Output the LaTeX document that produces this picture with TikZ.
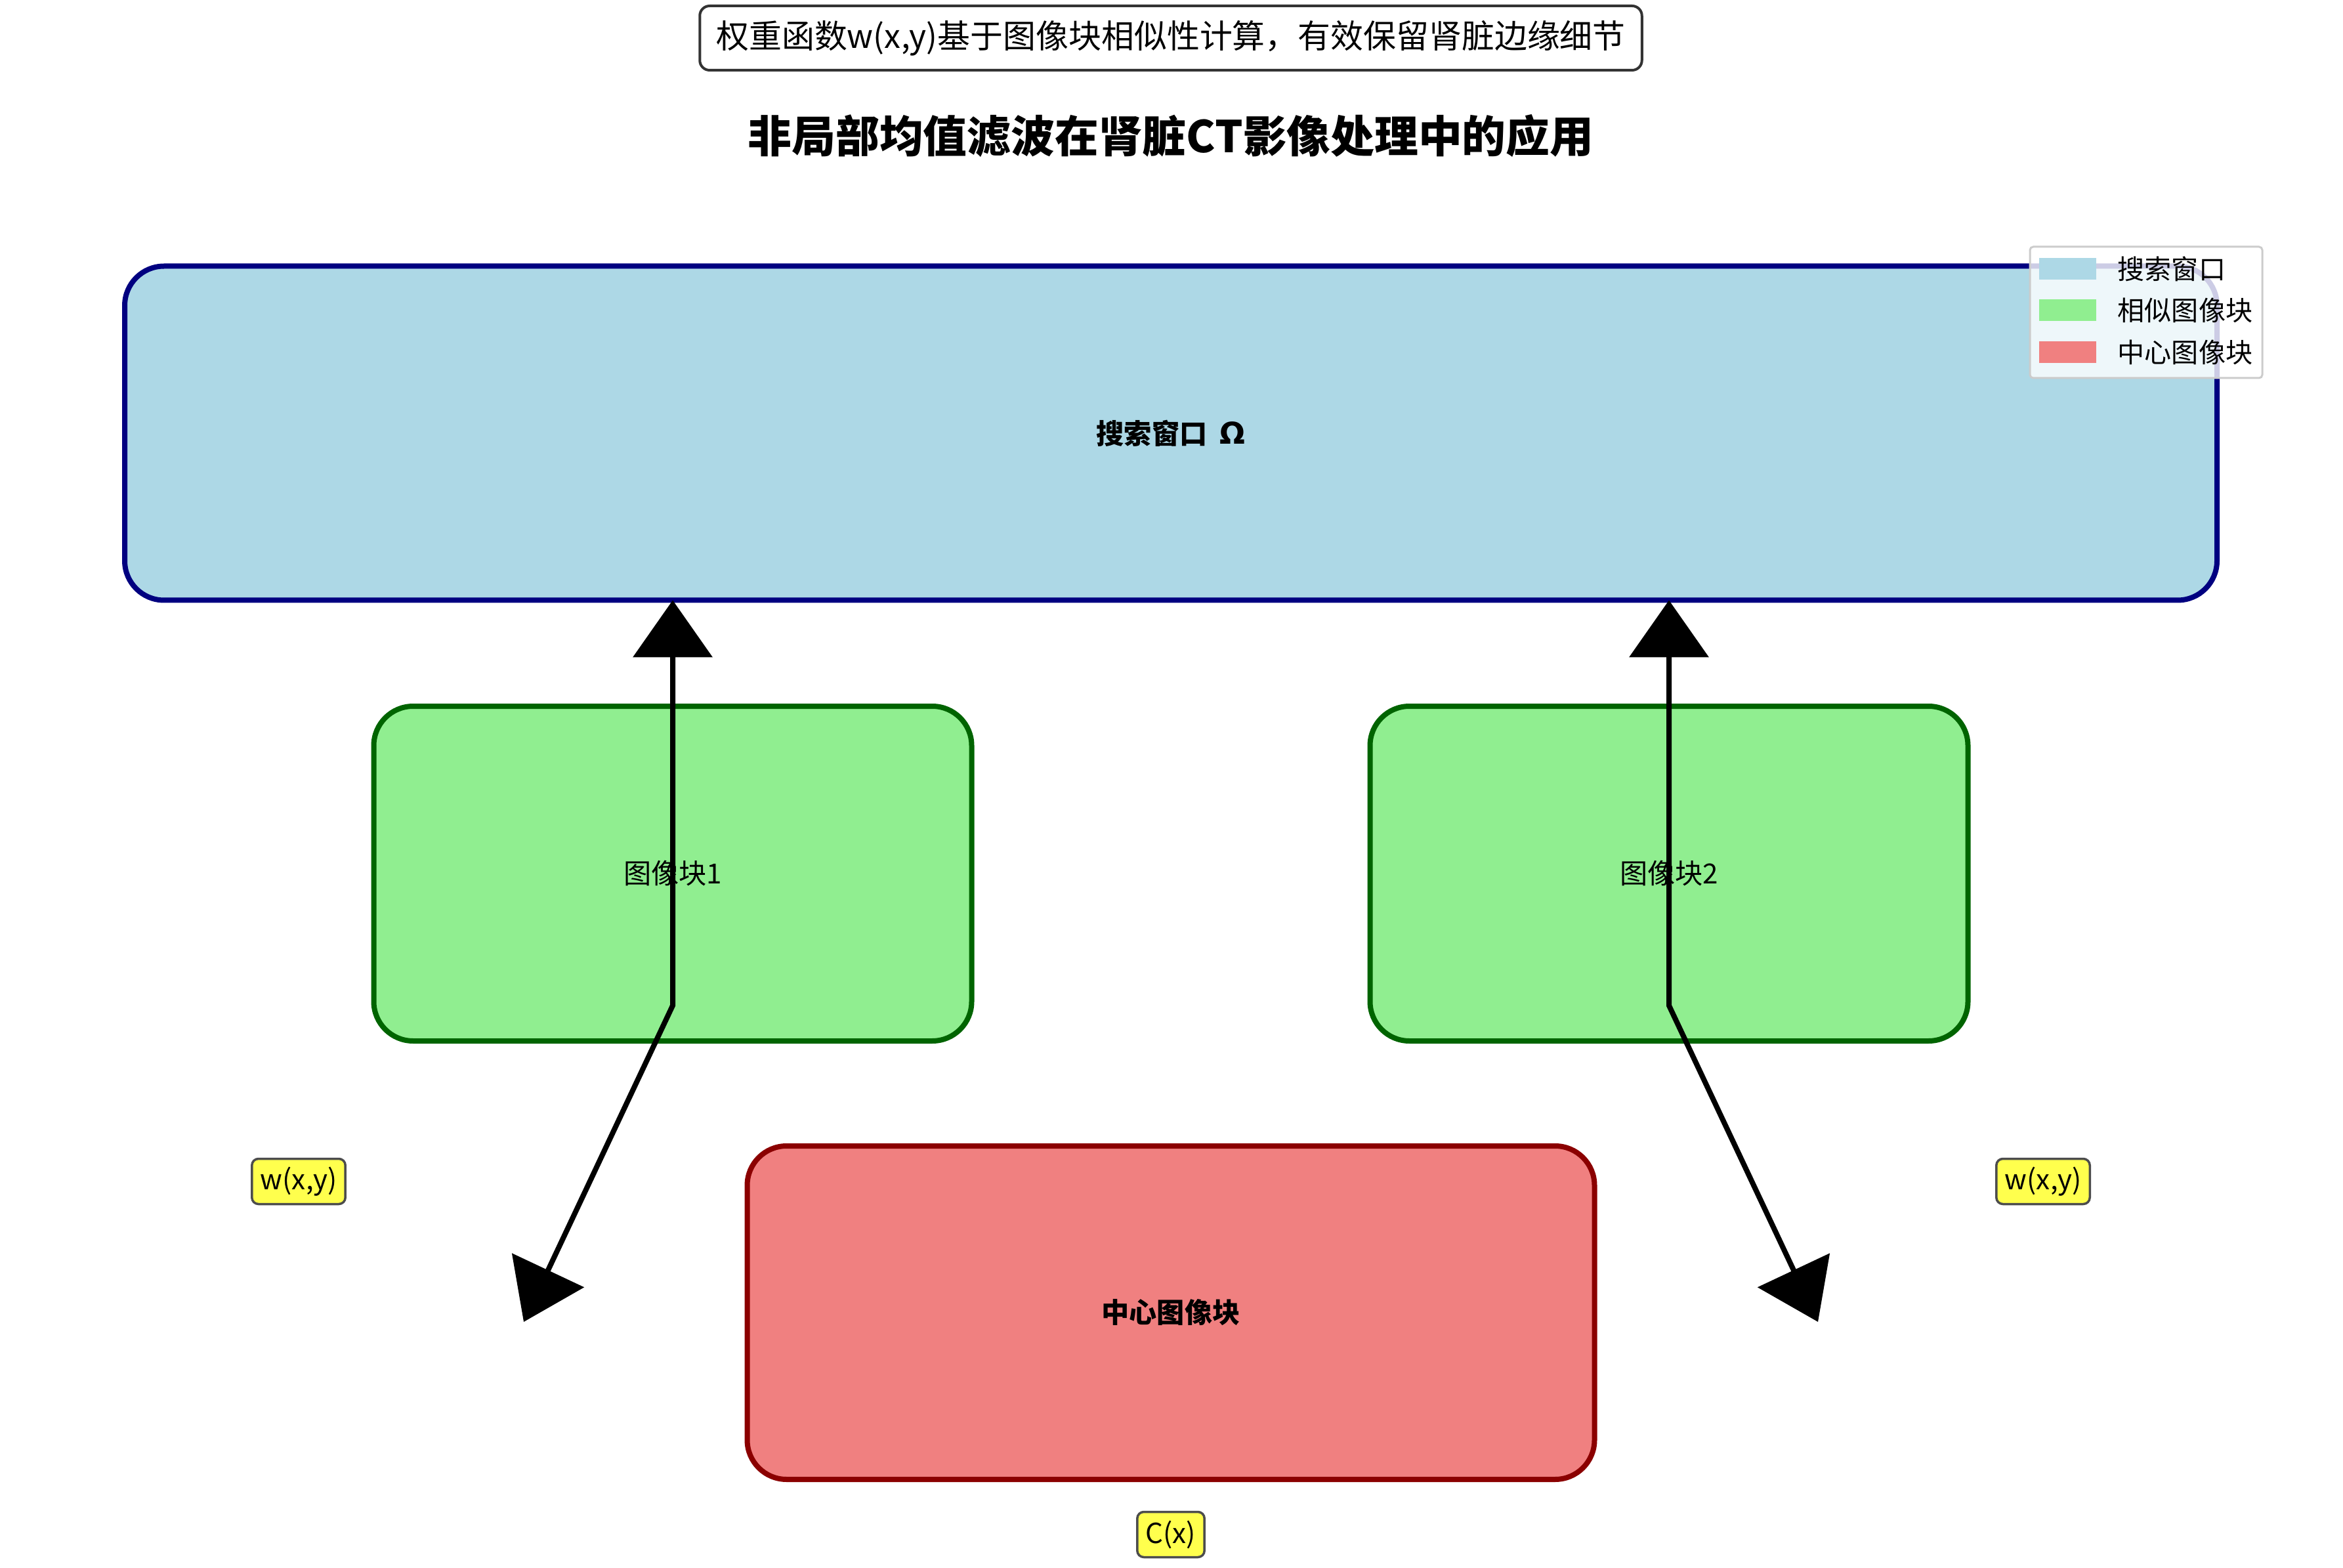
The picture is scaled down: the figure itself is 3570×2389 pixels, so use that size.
\documentclass[tikz,border=0pt]{standalone}
\usepackage{fontspec}
\setmainfont{Noto Sans CJK SC}
\newfontfamily\dejavu{DejaVu Sans}
\usetikzlibrary{arrows.meta,positioning}

\definecolor{winfill}{HTML}{ADD8E6}
\definecolor{winedge}{HTML}{000080}
\definecolor{simfill}{HTML}{90EE90}
\definecolor{simedge}{HTML}{006400}
\definecolor{ctrfill}{HTML}{F08080}
\definecolor{ctredge}{HTML}{8B0000}
\definecolor{tagfill}{HTML}{FFFF4D}
\definecolor{tagedge}{HTML}{4D4D4D}

\begin{document}
\begin{tikzpicture}[
x=0.1mm,y=-0.1mm,
patch/.style={draw,rounded corners=6mm,line width=0.8mm,outer sep=0pt,inner sep=0pt,font=\fontsize{12}{14}\selectfont},
win/.style={patch,fill=winfill,draw=winedge,minimum width=318.8mm,minimum height=50.9mm,font=\fontsize{12}{14}\selectfont\bfseries},
sim/.style={patch,fill=simfill,draw=simedge,minimum width=91.1mm,minimum height=51mm},
ctr/.style={patch,fill=ctrfill,draw=ctredge,minimum width=129.1mm,minimum height=50.8mm,font=\fontsize{12}{14}\selectfont\bfseries},
tag/.style={draw=tagedge,fill=tagfill,rounded corners=1mm,line width=0.35mm,inner xsep=1.3mm,inner ysep=0pt,minimum height=6.9mm,font=\fontsize{12}{14}\selectfont},
key/.style={fill=#1,minimum width=8.7mm,minimum height=3.3mm,inner sep=0pt},
keytxt/.style={anchor=west,inner sep=0pt,font=\fontsize{11.7}{13}\selectfont},
dbl/.style={{Triangle[length=8.7mm,width=12mm]}-{Triangle[length=8.7mm,width=12mm]},line width=0.8mm}
]
\fill[white] (0,0) rectangle (3570,2389);
\useasboundingbox (0,0) rectangle (3570,2389);

% note and title
\node[draw=black!80,fill=white,rounded corners=1.5mm,line width=0.4mm,inner xsep=2.5mm,minimum height=9.8mm,font=\fontsize{14.2}{17}\selectfont] (note) at (1784,58) {权重函数w(x,y)基于图像块相似性计算，有效保留肾脏边缘细节};
\node[font=\fontsize{19}{22}\selectfont\bfseries] (title) at (1784,207) {非局部均值滤波在肾脏CT影像处理中的应用};

% boxes
\node[win] (win) at (1784,660) {搜索窗口{\dejavu\bfseries\hspace{0.45em}\fontsize{13}{14}\selectfont Ω}};
\node[sim] (sim1) at (1025,1331) {图像块1};
\node[sim] (sim2) at (2543,1331) {图像块2};
\node[ctr] (ctr) at (1784,2000) {中心图像块};

% weight arrows
\coordinate (bendL) at (1025,1532);
\coordinate (endL) at (798,2014);
\coordinate (bendR) at (2543,1532);
\coordinate (endR) at (2770,2014);
\draw[dbl] (endL) -- (bendL) -- (sim1 |- win.south);
\draw[dbl] (endR) -- (bendR) -- (sim2 |- win.south);

% labels
\node[tag] (tagL) at (455,1800) {w(x,y)};
\node[tag] (tagR) at (3113,1800) {w(x,y)};
\node[tag] (tagC) at (1784,2338) {C(x)};

% legend
\node[draw=black!20,fill=white,fill opacity=0.8,rounded corners=0.5mm,line width=0.3mm,minimum width=35.4mm,minimum height=20mm] (legend) at (3270,476) {};
\node[key=winfill] (keyWin) at (3150,410) {};
\node[key=simfill] (keySim) at (3150,473) {};
\node[key=ctrfill] (keyCtr) at (3150,537) {};
\node[keytxt] at (3226,410) {搜索窗口};
\node[keytxt] at (3226,473) {相似图像块};
\node[keytxt] at (3226,537) {中心图像块};
\end{tikzpicture}
\end{document}
